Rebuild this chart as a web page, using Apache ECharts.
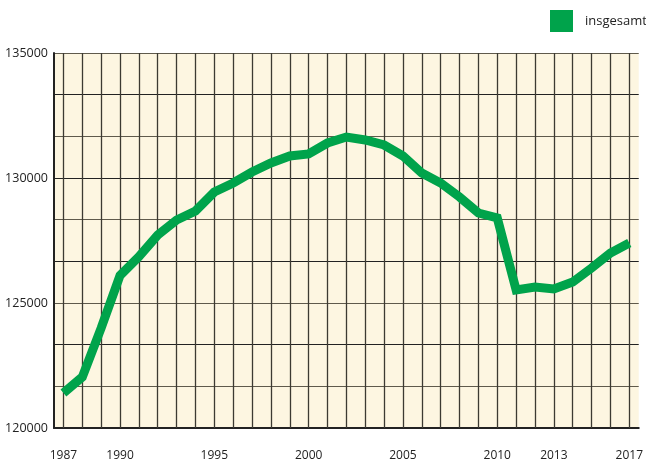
<!DOCTYPE html>
<html lang="de">
<head>
    <meta charset="UTF-8">
    <title>insgesamt</title>
    <script src="https://cdn.jsdelivr.net/npm/echarts@6/dist/echarts.min.js"></script>
    <style>
        html, body { margin: 0; padding: 0; background: #fff; }
        #main { width: 646px; height: 466px; }
    </style>
</head>
<body>
<div id="main"></div>
<script type="text/javascript">
    // Jahre und Werte
    var years = ['1987', '1988', '1989', '1990', '1991', '1992', '1993', '1994', '1995', '1996',
        '1997', '1998', '1999', '2000', '2001', '2002', '2003', '2004', '2005', '2006',
        '2007', '2008', '2009', '2010', '2011', '2012', '2013', '2014', '2015', '2016', '2017'];
    var insgesamt = [121400, 122040, 124000, 126100, 126850, 127720, 128320, 128680, 129440, 129800,
        130240, 130600, 130880, 130960, 131400, 131640, 131520, 131320, 130880, 130200,
        129800, 129240, 128600, 128400, 125520, 125640, 125560, 125840, 126400, 127000, 127400];
    var shownYears = ['1987', '1990', '1995', '2000', '2005', '2010', '2013', '2017'];
    var yMin = 120000, yMax = 135000, yStep = 5000 / 3;

    var myChart = echarts.init(document.getElementById('main'));

    // senkrechte Gitterlinien bei jedem Jahr
    var vLines = years.map(function (y) {
        return {xAxis: y};
    });

    myChart.setOption({
        animation: false,
        textStyle: {fontFamily: 'Open Sans'},
        legend: {
            left: 545,
            top: 5,
            itemWidth: 23,
            itemHeight: 22,
            icon: 'rect',
            textStyle: {fontSize: 13, color: '#222', padding: [0, 0, 0, 7]},
            data: ['insgesamt']
        },
        grid: {
            left: 54, right: 6, top: 53, bottom: 38,
            show: true,
            backgroundColor: '#fdf6e1',
            borderWidth: 0
        },
        xAxis: {
            type: 'category',
            data: years,
            boundaryGap: true,
            axisLine: {show: true, lineStyle: {color: '#222', width: 2}},
            axisTick: {show: false},
            splitLine: {show: false},
            axisLabel: {
                interval: 0,
                margin: 22,
                fontSize: 12,
                color: '#222',
                formatter: function (v) {
                    return shownYears.indexOf(v) >= 0 ? v : '';
                }
            }
        },
        yAxis: {
            type: 'value',
            min: yMin,
            max: yMax,
            interval: yStep,
            axisLine: {show: true, lineStyle: {color: '#222', width: 2}},
            axisTick: {show: false},
            splitLine: {show: true, lineStyle: {color: ['#222', '#5f5a4c'], width: 1.2}},
            axisLabel: {
                margin: 6,
                fontSize: 12.5,
                color: '#222',
                formatter: function (v) {
                    var r = v / 5000;
                    return Math.abs(r - Math.round(r)) < 1e-6 ? String(Math.round(v)) : '';
                }
            }
        },
        series: [{
            name: 'insgesamt',
            type: 'line',
            data: insgesamt,
            symbol: 'none',
            z: 5,
            itemStyle: {color: '#00a34b'},
            lineStyle: {color: '#00a34b', width: 9, join: 'miter'},
            markLine: {
                silent: true,
                symbol: 'none',
                label: {show: false},
                z: 1,
                lineStyle: {type: 'solid', color: '#3c3a32', width: 1.3},
                data: vLines
            }
        }]
    });
</script>
</body>
</html>
